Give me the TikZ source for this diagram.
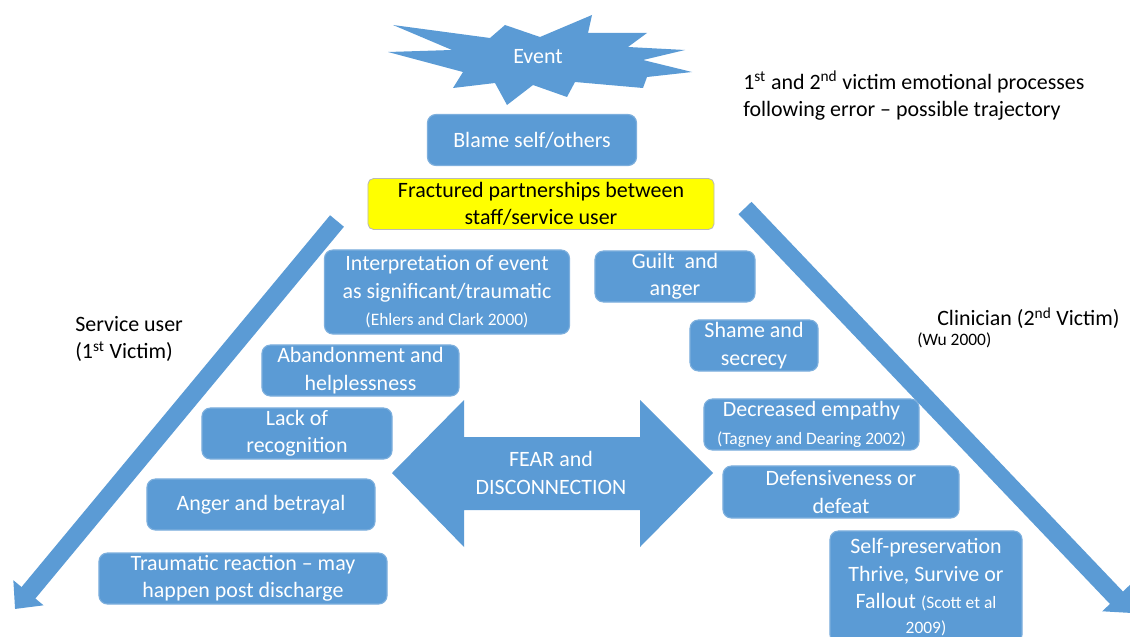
\documentclass[tikz,border=0pt]{standalone}
\usepackage{fontspec}
\setmainfont{Carlito}
\usetikzlibrary{arrows.meta}

\definecolor{boxblue}{HTML}{5B9BD5}
\definecolor{boxedge}{HTML}{7DAFDD}
\definecolor{fracyellow}{HTML}{FFFF00}
\newcommand{\mainsize}{\fontsize{15.6}{19.5}\selectfont}
\newcommand{\refsize}{\fontsize{12.4}{15}\selectfont}

\begin{document}
\begin{tikzpicture}[x=0.025cm, y=-0.025cm,
    box/.style={rectangle, rounded corners=6pt, fill=boxblue, draw=boxedge, line width=0.8pt,
        text=white, align=center, inner sep=0pt, font=\mainsize},
    yellowbox/.style={rectangle, rounded corners=4pt, fill=fracyellow, draw=gray!55, line width=0.6pt,
        text=black, align=center, inner sep=0pt, font=\mainsize},
    traj/.style={boxblue, line width=12.8pt, -{Triangle[width=27pt,length=15pt]}},
    label/.style={inner sep=0pt, align=left, font=\mainsize}]
    \useasboundingbox (0,0) rectangle (1130,637);
    \clip (0,0) rectangle (1130,637);

    % event star
    \fill[boxblue] (393,25) -- (490,38) -- (505,25) -- (540,37) -- (592,15) -- (588,33)
        -- (647,33) -- (628,47) -- (685,50) -- (643,60) -- (692,72) -- (647,77)
        -- (643,88) -- (575,82) -- (567,97) -- (533,85) -- (507,105) -- (495,83)
        -- (453,88) -- (463,72) -- (388,52) -- (452,50) -- cycle;
    \node[text=white, font=\mainsize] (event) at (538,57) {Event};

    % top of the triangle
    \node[box, minimum width=5.225cm, minimum height=1.275cm] (blame) at (532,140) {Blame self/others};
    \node[yellowbox, minimum width=8.65cm, minimum height=1.275cm] (fractured) at (541,204)
        {Fractured partnerships between\\ staff/service user};

    % title and sides
    \node[label, anchor=north west] (title) at (743,71)
        {1\textsuperscript{st} and 2\textsuperscript{nd} victim emotional processes\\ following error -- possible trajectory};
    \node[label, anchor=north west] (serviceuser) at (75,316) {Service user\\ (1\textsuperscript{st} Victim)};
    \node[label, anchor=west] (clinician) at (937,318) {Clinician (2\textsuperscript{nd} Victim)};
    \node[label, anchor=west, font=\refsize] (wu) at (917,340) {(Wu 2000)};

    % the two trajectories
    \coordinate (sutop) at (337,221);
    \coordinate (sutip) at (15,609);
    \coordinate (cltop) at (745,208);
    \coordinate (cltip) at (1131,613);
    \draw[traj] (sutop) -- (sutip);
    \draw[traj] (cltop) -- (cltip);

    % service user side
    \node[box, minimum width=6.125cm, minimum height=2.1cm] (interp) at (447,292)
        {Interpretation of event\\ as significant/traumatic\\ {\refsize (Ehlers and Clark 2000)}};
    \node[box, minimum width=4.925cm, minimum height=1.275cm] (aband) at (360.5,370.5)
        {Abandonment and\\ helplessness};
    \node[box, minimum width=4.75cm, minimum height=1.275cm] (lack) at (297,433.5)
        {Lack of\\ recognition};
    \node[box, minimum width=5.7cm, minimum height=1.275cm] (anger) at (261,504.5)
        {Anger and betrayal};
    \node[box, minimum width=7.2cm, minimum height=1.275cm] (trauma) at (243,578.5)
        {Traumatic reaction -- may\\ happen post discharge};

    % clinician side
    \node[box, minimum width=4cm, minimum height=1.275cm] (guilt) at (675,276.5)
        {Guilt \ and\\ anger};
    \node[box, minimum width=3.2cm, minimum height=1.275cm] (shame) at (754,345.5)
        {Shame and\\ secrecy};
    \node[box, minimum width=5.375cm, minimum height=1.275cm] (empathy) at (811.5,424.5)
        {Decreased empathy\\ {\refsize (Tagney and Dearing 2002)}};
    \node[box, minimum width=5.9cm, minimum height=1.3cm] (defens) at (841,492)
        {Defensiveness or\\ defeat};
    \node[box, minimum width=4.8cm, minimum height=2.8cm] (selfpres) at (926,587)
        {Self-preservation\\ Thrive, Survive or\\ Fallout {\refsize (Scott et al}\\[-2pt] {\refsize 2009)}};

    % fear and disconnection
    \fill[boxblue] (392,473) -- (464,400) -- (464,437) -- (640,437) -- (640,400) -- (713,473)
        -- (640,547) -- (640,510) -- (464,510) -- (464,547) -- cycle;
    \node[text=white, align=center, font=\mainsize] (fear) at (551,473) {FEAR and\\ DISCONNECTION};
\end{tikzpicture}
\end{document}
